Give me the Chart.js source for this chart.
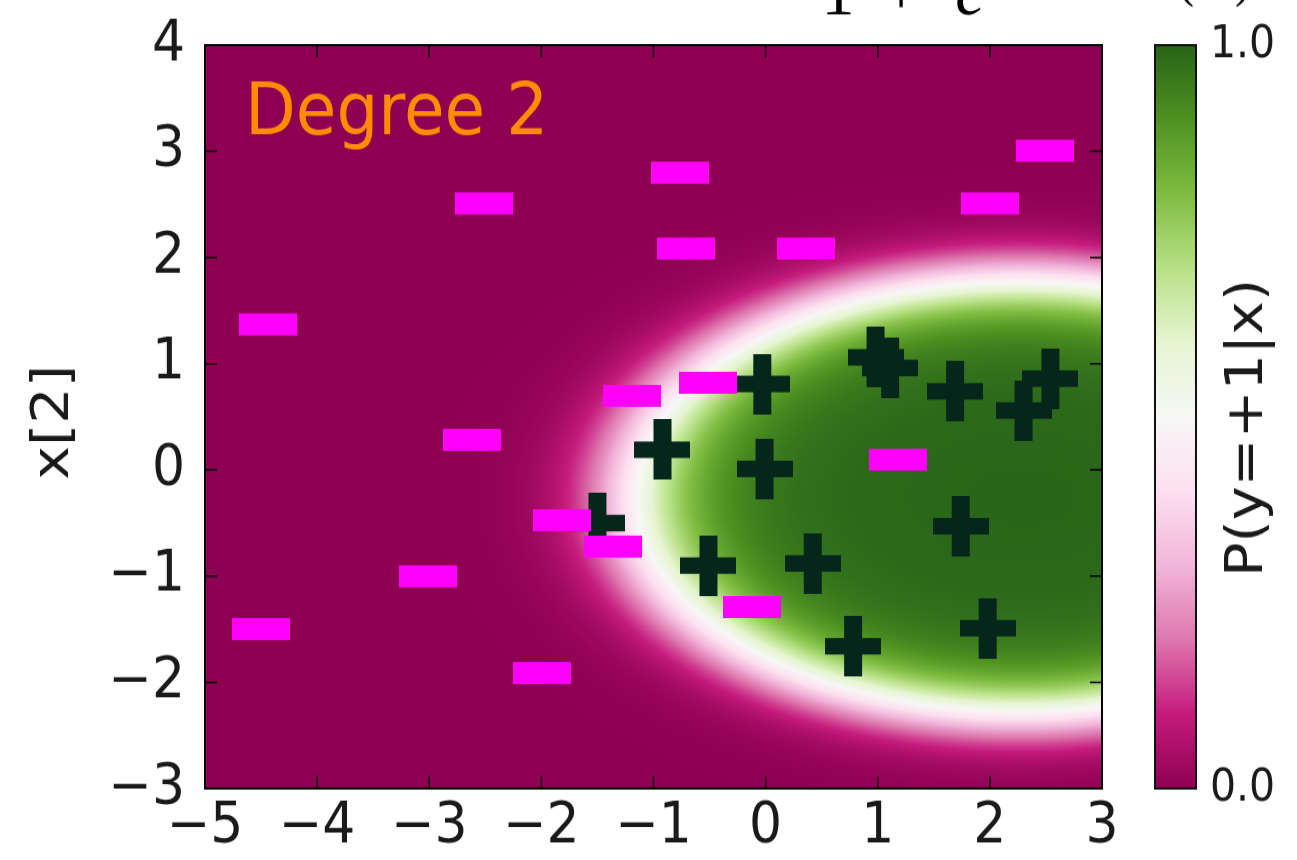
<!DOCTYPE html>
<html>
<head>
<meta charset="utf-8">
<style>
  html, body { margin: 0; padding: 0; background: #fff; overflow: hidden; }
</style>
<script src="https://cdn.jsdelivr.net/npm/chart.js@4.4.0/dist/chart.umd.min.js"></script>
</head>
<body>
<!-- drawn at 1297x782 and shown at 1297x860, the reference is stretched the same way -->
<canvas id="plot" width="1297" height="782" style="display:block;width:1297px;height:860px"></canvas>
<script>
'use strict';

// training points, negative class (drawn as "-")
var minusX = [-0.76, -2.51, 2.49, 2.00, -0.71, 0.36, -4.44, -1.19, -0.51, -2.62, 1.18, -1.82, -1.36, -3.01, -0.12, -4.50, -1.99];
var minusY = [2.80, 2.51, 3.01, 2.51, 2.08, 2.08, 1.37, 0.70, 0.82, 0.28, 0.10, -0.47, -0.72, -1.00, -1.29, -1.50, -1.91];

// training points, positive class (drawn as "+")
var plusX = [-0.03, 0.98, 1.11, 1.69, 2.54, 2.30, -0.92, -0.01, -1.50, -0.51, 0.42, 1.74, 0.78, 1.98];
var plusY = [0.81, 1.06, 0.96, 0.74, 0.86, 0.56, 0.19, 0.01, -0.50, -0.90, -0.88, -0.53, -1.66, -1.49];

// degree 2 logistic model, features h(x) = [1, x1, x2, x1^2, x1*x2, x2^2]
var weights = [2.88, 2.07, -0.66, -0.455, 0, -1.3];

var xTicks = [-5, -4, -3, -2, -1, 0, 1, 2, 3];
var xTickLabels = ['\u22125', '\u22124', '\u22123', '\u22122', '\u22121', '0', '1', '2', '3'];
var yTicks = [-3, -2, -1, 0, 1, 2, 3, 4];
var yTickLabels = ['\u22123', '\u22122', '\u22121', '0', '1', '2', '3', '4'];
var colorbarTicks = ['0.0', '1.0'];

// PiYG
var piyg = ['#8e0152', '#c51b7d', '#de77ae', '#f1b6da', '#fde0ef', '#f7f7f7',
            '#e6f5d0', '#b8e186', '#7fbc41', '#4d9221', '#276419'];

var FONT = '"DejaVu Sans", sans-serif';

function hexToRgb(h) {
  return [parseInt(h.substr(1, 2), 16), parseInt(h.substr(3, 2), 16), parseInt(h.substr(5, 2), 16)];
}
var piygRgb = piyg.map(hexToRgb);

function colormap(p) {
  var t = Math.min(Math.max(p, 0), 1) * (piygRgb.length - 1);
  var i = Math.min(Math.floor(t), piygRgb.length - 2);
  var f = t - i, a = piygRgb[i], b = piygRgb[i + 1];
  return [a[0] + (b[0] - a[0]) * f, a[1] + (b[1] - a[1]) * f, a[2] + (b[2] - a[2]) * f];
}

function prob(x1, x2) {
  var h = [1, x1, x2, x1 * x1, x1 * x2, x2 * x2];
  var s = 0;
  for (var i = 0; i < h.length; i++) s += weights[i] * h[i];
  return 1 / (1 + Math.exp(-s));
}

function makeMarker(w, h, draw) {
  var c = document.createElement('canvas');
  c.width = w;
  c.height = h;
  draw(c.getContext('2d'));
  return c;
}
var plusMarker = makeMarker(56, 55, function(g) {
  g.fillStyle = '#05261a';
  g.fillRect(19, 0, 18, 55);
  g.fillRect(0, 20, 56, 15);
});
var minusMarker = makeMarker(58, 20, function(g) {
  g.fillStyle = '#ff00ff';
  g.fillRect(0, 0, 58, 20);
});

function toPoints(xs, ys) {
  return xs.map(function(x, i) { return {x: x, y: ys[i]}; });
}

// P(y=+1|x) behind the points
var heatmap = {
  id: 'heatmap',
  beforeDatasetsDraw: function(chart) {
    var a = chart.chartArea, xs = chart.scales.x, ys = chart.scales.y;
    var left = Math.round(a.left), top = Math.round(a.top);
    var w = Math.round(a.right) - left, h = Math.round(a.bottom) - top;
    var img = chart.ctx.createImageData(w, h);
    for (var j = 0; j < h; j++) {
      var v = ys.getValueForPixel(top + j + 0.5);
      for (var i = 0; i < w; i++) {
        var u = xs.getValueForPixel(left + i + 0.5);
        var c = colormap(prob(u, v));
        var k = (j * w + i) * 4;
        img.data[k] = c[0];
        img.data[k + 1] = c[1];
        img.data[k + 2] = c[2];
        img.data[k + 3] = 255;
      }
    }
    chart.ctx.putImageData(img, left, top);
  }
};

// box and inward ticks on all four sides
var frame = {
  id: 'frame',
  afterDatasetsDraw: function(chart) {
    var ctx = chart.ctx, a = chart.chartArea, xs = chart.scales.x, ys = chart.scales.y;
    ctx.save();
    ctx.strokeStyle = '#000';
    ctx.lineWidth = 1.5;
    ctx.beginPath();
    xTicks.forEach(function(t) {
      var px = xs.getPixelForValue(t);
      ctx.moveTo(px, a.bottom); ctx.lineTo(px, a.bottom - 11);
      ctx.moveTo(px, a.top); ctx.lineTo(px, a.top + 11);
    });
    yTicks.forEach(function(t) {
      var py = ys.getPixelForValue(t);
      ctx.moveTo(a.left, py); ctx.lineTo(a.left + 12, py);
      ctx.moveTo(a.right, py); ctx.lineTo(a.right - 12, py);
    });
    ctx.stroke();
    ctx.lineWidth = 2;
    ctx.strokeRect(a.left, a.top, a.right - a.left, a.bottom - a.top);
    ctx.restore();
  }
};

var annotations = {
  id: 'annotations',
  afterDraw: function(chart) {
    var ctx = chart.ctx, a = chart.chartArea;
    ctx.save();

    // title of the panel
    ctx.fillStyle = '#ff8c00';
    ctx.font = '66px ' + FONT;
    ctx.textAlign = 'left';
    ctx.textBaseline = 'alphabetic';
    ctx.fillText('Degree 2', 245, 122);

    // y axis label
    ctx.fillStyle = '#1a1a1a';
    ctx.font = '52px ' + FONT;
    ctx.textAlign = 'center';
    ctx.textBaseline = 'middle';
    ctx.save();
    ctx.translate(54, 384);
    ctx.rotate(-Math.PI / 2);
    ctx.fillText('x[2]', 0, 0);
    ctx.restore();

    // colorbar
    var cbLeft = 1155, cbRight = 1196;
    var grad = ctx.createLinearGradient(0, a.bottom, 0, a.top);
    piyg.forEach(function(c, i) { grad.addColorStop(i / (piyg.length - 1), c); });
    ctx.fillStyle = grad;
    ctx.fillRect(cbLeft, a.top, cbRight - cbLeft, a.bottom - a.top);
    ctx.strokeStyle = '#111';
    ctx.lineWidth = 2;
    ctx.strokeRect(cbLeft, a.top, cbRight - cbLeft, a.bottom - a.top);

    ctx.fillStyle = '#1a1a1a';
    ctx.font = '41px ' + FONT;
    ctx.textAlign = 'left';
    ctx.textBaseline = 'middle';
    ctx.fillText(colorbarTicks[1], 1210, a.top);
    ctx.fillText(colorbarTicks[0], 1210, a.bottom);

    ctx.font = '52px ' + FONT;
    ctx.textAlign = 'center';
    ctx.save();
    ctx.translate(1248, 389);
    ctx.rotate(-Math.PI / 2);
    ctx.fillText('P(y=+1|x)', 0, 0);
    ctx.restore();

    // bottom of the formula above, cut off by the page edge
    ctx.fillStyle = '#000';
    ctx.textBaseline = 'alphabetic';
    ctx.font = '66px "Liberation Serif", serif';
    ctx.fillText('1', 838, 13);
    ctx.fillText('+', 901, 13);
    ctx.font = 'italic 66px "Liberation Serif", serif';
    ctx.fillText('e', 970, 13);
    ctx.font = '48px "Liberation Serif", serif';
    ctx.fillText('(', 1186, -4);
    ctx.fillText(')', 1243, -4);

    ctx.restore();
  }
};

var config = {
  type: 'scatter',
  data: {
    datasets: [
      {
        label: 'y = -1',
        data: toPoints(minusX, minusY),
        pointStyle: minusMarker,
        pointRadius: 5,
        order: 0
      },
      {
        label: 'y = +1',
        data: toPoints(plusX, plusY),
        pointStyle: plusMarker,
        pointRadius: 5,
        order: 1
      }
    ]
  },
  options: {
    responsive: false,
    animation: false,
    events: [],
    layout: { padding: { left: 0, right: 195, top: 41, bottom: 0 } },
    plugins: {
      legend: { display: false },
      tooltip: { enabled: false }
    },
    scales: {
      x: {
        type: 'linear',
        min: -5,
        max: 3,
        grid: { display: false, drawTicks: false },
        border: { display: false },
        afterFit: function(scale) {
          scale.height = 65;
          scale.paddingLeft = 0;
          scale.paddingRight = 0;
        },
        ticks: {
          stepSize: 1,
          padding: 4,
          maxRotation: 0,
          autoSkip: false,
          color: '#1a1a1a',
          font: { family: FONT, size: 52 },
          callback: function(v) { return xTickLabels[xTicks.indexOf(v)]; }
        }
      },
      y: {
        type: 'linear',
        min: -3,
        max: 4,
        grid: { display: false, drawTicks: false },
        border: { display: false },
        afterFit: function(scale) {
          scale.width = 205;
          scale.paddingTop = 0;
          scale.paddingBottom = 0;
        },
        ticks: {
          stepSize: 1,
          padding: 20,
          autoSkip: false,
          color: '#1a1a1a',
          font: { family: FONT, size: 52 },
          callback: function(v) { return yTickLabels[yTicks.indexOf(v)]; }
        }
      }
    }
  },
  plugins: [heatmap, frame, annotations]
};

var canvas = document.getElementById('plot');
window.chart = new Chart(canvas, config);
canvas.style.width = '1297px';
canvas.style.height = '860px';
</script>
</body>
</html>
